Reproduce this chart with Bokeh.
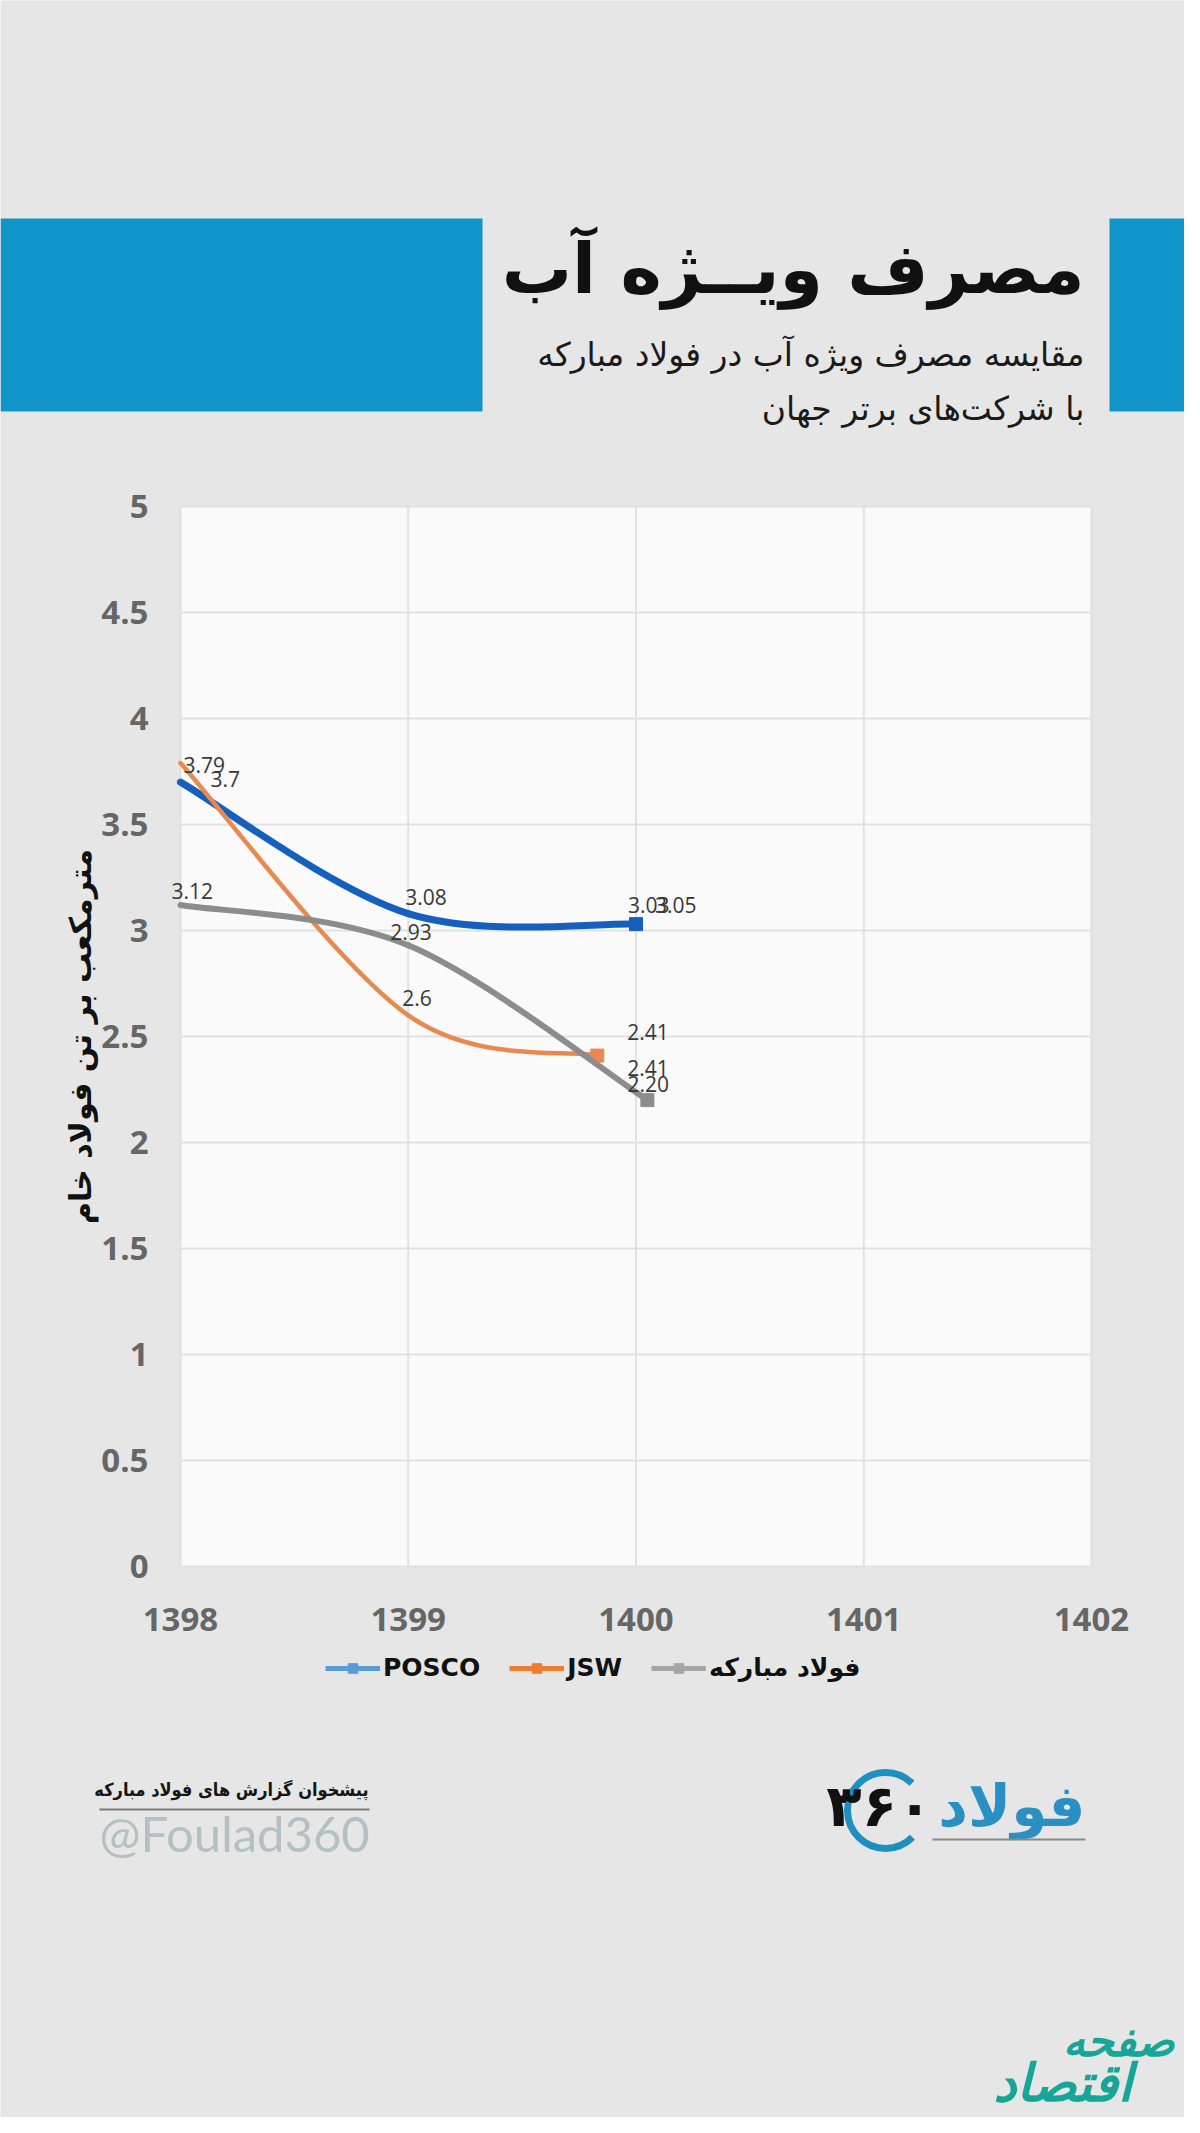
from bokeh.plotting import figure
from bokeh.models import (Range1d, FixedTicker, ColumnDataSource, LabelSet, Legend,
                          LegendItem, LinearAxis)
from bokeh.embed import file_html
from bokeh.resources import INLINE
from bokeh.core.properties import value

# ---------------- data ----------------
x_ticks = [1398, 1399, 1400, 1401, 1402]
x_tick_labels = ["1398", "1399", "1400", "1401", "1402"]
y_ticks = [0, 0.5, 1, 1.5, 2, 2.5, 3, 3.5, 4, 4.5, 5]
y_tick_labels = ["0", "0.5", "1", "1.5", "2", "2.5", "3", "3.5", "4", "4.5", "5"]

series_names = ["POSCO", "JSW", "فولاد مبارکه"]

posco_x = [1398, 1399, 1400]
posco_y = [3.70, 3.08, 3.03]
posco_labels = ["3.7", "3.08", "3.03"]

jsw_x = [1398, 1399, 1399.83]
jsw_y = [3.79, 2.60, 2.41]
jsw_labels = ["3.79", "2.6", "2.41"]

mob_x = [1398, 1399, 1400.05]
mob_y = [3.12, 2.93, 2.20]
mob_labels = ["3.12", "2.93", "2.20"]

# duplicate labels that appear in the source next to the last POSCO / JSW points
extra_labels = ["3.05", "2.41"]

title_text = "مصرف ویــژه آب"
subtitle_1 = "مقایسه مصرف ویژه آب در فولاد مبارکه"
subtitle_2 = "با شرکت‌های برتر جهان"
y_axis_title = "مترمکعب بر تن فولاد خام"
footer_1 = "پیشخوان گزارش های فولاد مبارکه"
footer_2 = "@Foulad360"
logo_word = "فولاد"
logo_num = "۳۶۰"
wm_1 = "صفحه"
wm_2 = "اقتصاد"

# ---------------- layout / styles ----------------
BG = "#e6e6e6"
PLOT_BG = "#fafafa"
GRID = "#e1e1e1"
BAND = "#0f95c7"
LINE_COLORS = ["#1560bd", "#e8894f", "#8c8c8c"]
LINE_WIDTHS = [7, 4.5, 6]
LEG_COLORS = ["#5b9bd5", "#ed7d31", "#a5a5a5"]
AR = value("DejaVu Sans")
W, H = 1184, 2117
TOP, LEFT = 8, 8
BOTTOM = TOP + H
PX0, PX1, PY0, PY1 = 188, 1099, 514, 1574   # plot area in page pixels

# value ranges chosen so that the data area lands on the plot-area rectangle
fx0 = (PX0 - LEFT) / W
fx1 = (PX1 - LEFT) / W
xspan = (x_ticks[-1] - x_ticks[0]) / (fx1 - fx0)
xs = x_ticks[0] - fx0 * xspan
gy0 = (BOTTOM - PY1) / H
gy1 = (BOTTOM - PY0) / H
yspan = (y_ticks[-1] - y_ticks[0]) / (gy1 - gy0)
ys = y_ticks[0] - gy0 * yspan

p = figure(width=W, height=H, x_range=Range1d(LEFT, LEFT + W), y_range=Range1d(BOTTOM, TOP),
           toolbar_location=None, output_backend="svg", min_border=0,
           x_axis_type=None, y_axis_type=None)
p.grid.visible = False
p.outline_line_color = None
p.background_fill_color = BG
p.border_fill_color = BG
p.extra_x_ranges = {"yr": Range1d(xs, xs + xspan)}
p.extra_y_ranges = {"val": Range1d(ys, ys + yspan)}
R = dict(x_range_name="yr", y_range_name="val")

# ---------------- header ----------------
p.quad(left=[LEFT, 1117], right=[490, LEFT + W], top=[226, 226], bottom=[419, 419],
       fill_color=BAND, line_color=None)
p.text(x=[1092], y=[276], text=[title_text], text_font=AR, text_font_style="bold",
       text_font_size="70px", text_align="right", text_baseline="middle", text_color="#111111")
p.text(x=[1092, 1092], y=[362, 416], text=[subtitle_1, subtitle_2], text_font=AR,
       text_font_size="33px", text_align="right", text_baseline="middle", text_color="#1a1a1a")

# ---------------- chart ----------------
p.quad(left=[x_ticks[0]], right=[x_ticks[-1]], bottom=[y_ticks[0]], top=[y_ticks[-1]],
       fill_color=PLOT_BG, line_color=None, **R)
p.segment(x0=[x_ticks[0]] * len(y_ticks), x1=[x_ticks[-1]] * len(y_ticks), y0=y_ticks, y1=y_ticks,
          line_color=GRID, line_width=2, **R)
p.segment(x0=x_ticks, x1=x_ticks, y0=[y_ticks[0]] * len(x_ticks), y1=[y_ticks[-1]] * len(x_ticks),
          line_color=GRID, line_width=2, **R)

yax = LinearAxis(ticker=FixedTicker(ticks=y_ticks), fixed_location=x_ticks[0],
                 bounds=(y_ticks[0], y_ticks[-1]), **R)
xax = LinearAxis(ticker=FixedTicker(ticks=x_ticks), fixed_location=y_ticks[0],
                 bounds=(x_ticks[0], x_ticks[-1]), **R)
yax.major_label_overrides = {float(t): l for t, l in zip(y_ticks, y_tick_labels)}
xax.major_label_overrides = {float(t): l for t, l in zip(x_ticks, x_tick_labels)}
for ax in (xax, yax):
    ax.axis_line_color = None
    ax.major_tick_line_color = None
    ax.minor_tick_line_color = None
    ax.major_tick_out = 0
    ax.major_tick_in = 0
    ax.major_label_text_font = "Open Sans"
    ax.major_label_text_font_style = "bold"
    ax.major_label_text_font_size = "33px"
    ax.major_label_text_color = "#666666"
yax.major_label_standoff = 32
xax.major_label_standoff = 41
yax.axis_label = y_axis_title
yax.axis_label_text_font = "DejaVu Sans"
yax.axis_label_text_font_style = "bold"
yax.axis_label_text_font_size = "30px"
yax.axis_label_text_color = "#111111"
yax.axis_label_standoff = 0
p.add_layout(yax, "left")
p.add_layout(xax, "below")


def smooth(xv, yv, t=1.0 / 6.0):
    n = len(xv)
    d = dict(x0=[], y0=[], x1=[], y1=[], cx0=[], cy0=[], cx1=[], cy1=[])
    for i in range(n - 1):
        a = max(i - 1, 0)
        b = min(i + 2, n - 1)
        d["x0"].append(xv[i]); d["y0"].append(yv[i])
        d["x1"].append(xv[i + 1]); d["y1"].append(yv[i + 1])
        d["cx0"].append(xv[i] + (xv[i + 1] - xv[a]) * t)
        d["cy0"].append(yv[i] + (yv[i + 1] - yv[a]) * t)
        d["cx1"].append(xv[i + 1] - (xv[b] - xv[i]) * t)
        d["cy1"].append(yv[i + 1] - (yv[b] - yv[i]) * t)
    return ColumnDataSource(d)


all_x = [posco_x, jsw_x, mob_x]
all_y = [posco_y, jsw_y, mob_y]
all_lbl = [posco_labels, jsw_labels, mob_labels]

items = []
for k in range(3):
    xv, yv = all_x[k], all_y[k]
    p.bezier(x0="x0", y0="y0", x1="x1", y1="y1", cx0="cx0", cy0="cy0", cx1="cx1", cy1="cy1",
             source=smooth(xv, yv), line_color=LINE_COLORS[k], line_width=LINE_WIDTHS[k],
             line_cap="round", **R)
    p.scatter(xv[-1:], yv[-1:], marker="square", size=13, color=LINE_COLORS[k], **R)
    lr = p.line(xv, yv, line_color=LEG_COLORS[k], line_width=5, visible=False, **R)
    mr = p.scatter(xv, yv, marker="square", size=9, color=LEG_COLORS[k], visible=False, **R)
    items.append(LegendItem(label=series_names[k], renderers=[lr, mr]))

# data labels (pixel offsets: right, up)
lbl_offsets = [[(30, 3), (-3, 17), (-8, 19)],
               [(3, -2), (-6, 17), (30, -12)],
               [(-9, 14), (-18, 13), (-20, 16)]]
lx, ly, lt, lxo, lyo = [], [], [], [], []
for k in range(3):
    for i in range(3):
        lx.append(all_x[k][i]); ly.append(all_y[k][i]); lt.append(all_lbl[k][i])
        lxo.append(lbl_offsets[k][i][0]); lyo.append(lbl_offsets[k][i][1])
extra_anchor = [(0, 2), (1, 2)]
extra_offsets = [(19, 19), (30, 24)]
for (k, i), txt, (ox, oy) in zip(extra_anchor, extra_labels, extra_offsets):
    lx.append(all_x[k][i]); ly.append(all_y[k][i]); lt.append(txt)
    lxo.append(ox); lyo.append(oy)
lsrc = ColumnDataSource(dict(x=lx, y=ly, text=lt, xo=lxo, yo=lyo))
p.add_layout(LabelSet(x="x", y="y", text="text", x_offset="xo", y_offset="yo", source=lsrc,
                      text_font=value("Open Sans"), text_font_size="21px", text_color="#383838",
                      text_align="left", text_baseline="middle", **R))

legend = Legend(items=items, location=(333 - LEFT, BOTTOM - 1690), orientation="horizontal",
                glyph_width=55, glyph_height=24, label_standoff=3, spacing=29,
                padding=0, margin=0, background_fill_alpha=0, border_line_color=None,
                label_text_font="DejaVu Sans", label_text_font_style="bold",
                label_text_font_size="25px", label_text_color="#111111")
p.add_layout(legend)

# ---------------- footer ----------------
p.text(x=[376], y=[1797], text=[footer_1], text_font=value("DejaVu Sans Condensed"),
       text_font_style="bold", text_font_size="18px", text_align="right",
       text_baseline="middle", text_color="#151515")
p.segment(x0=[107], y0=[1817], x1=[377], y1=[1817], line_color="#7a7a7a", line_width=2)
p.text(x=[107], y=[1840], text=[footer_2], text_font=value("Lato"), text_font_size="49px",
       text_align="left", text_baseline="middle", text_color="#b3c1c6")
p.arc(x=[893], y=[1818], radius=38, start_angle=0.8, end_angle=5.5,
      line_color="#1f8fc0", line_width=7)
p.text(x=[1093], y=[1813], text=[logo_word], text_font=AR, text_font_style="bold",
       text_font_size="58px", text_align="right", text_baseline="middle", text_color="#2a8fc2")
p.text(x=[940], y=[1813], text=[logo_num], text_font=AR, text_font_style="bold",
       text_font_size="58px", text_align="right", text_baseline="middle", text_color="#111111")
p.segment(x0=[940], y0=[1847], x1=[1093], y1=[1847], line_color="#8a8a8a", line_width=2)
p.text(x=[1182, 1140], y=[2048, 2090], text=[wm_1, wm_2], text_font=AR,
       text_font_style="bold italic", text_font_size=["44px", "52px"], text_align="right",
       text_baseline="middle", text_color="#16a596")

open("out.html", "w").write(file_html(p, INLINE))
